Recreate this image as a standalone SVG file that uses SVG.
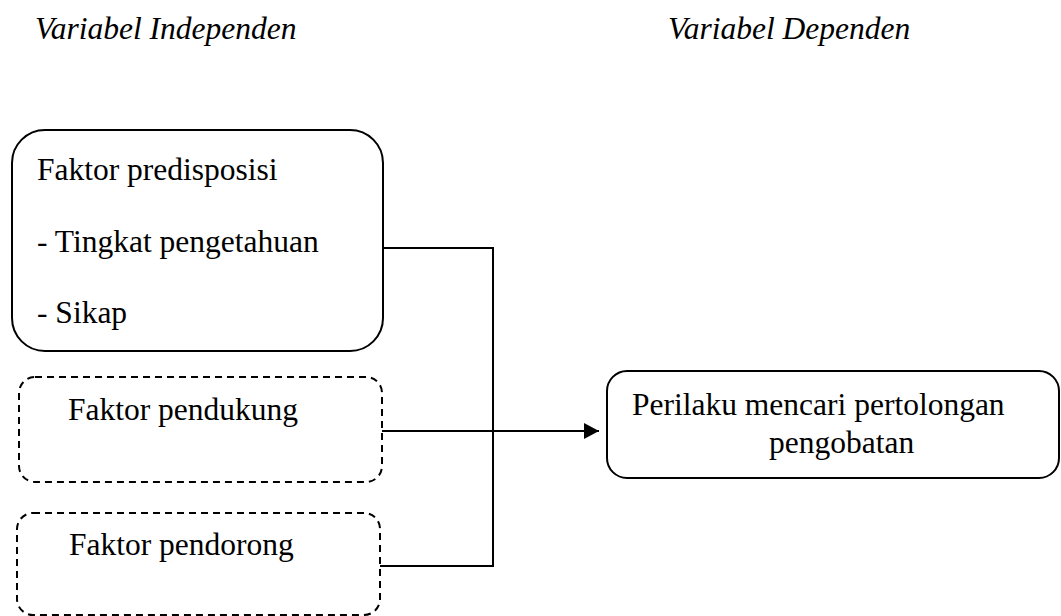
<svg xmlns="http://www.w3.org/2000/svg" width="1061" height="616" viewBox="0 0 1061 616">
<style>
  text { font-family: "Liberation Serif", "Times New Roman", serif; font-size: 31.5px; fill: #000; }
  .title { font-style: italic; }
  .box { fill: none; stroke: #000; stroke-width: 2; }
  .dashed { stroke-dasharray: 7 5; }
  .conn { fill: none; stroke: #000; stroke-width: 2; }
</style>
<defs>
  <marker id="arrow" markerWidth="16" markerHeight="16" refX="15" refY="8" orient="auto" markerUnits="userSpaceOnUse">
    <path d="M0,0 L15,8 L0,16 Z" fill="#000"/>
  </marker>
</defs>
<rect width="1061" height="616" fill="#fff"/>
<g id="titles">
  <text class="title" x="35" y="39">Variabel Independen</text>
  <text class="title" x="668" y="39">Variabel Dependen</text>
</g>
<g id="node-predisposisi">
  <rect class="box" x="12" y="130" width="371" height="221" rx="33" ry="33"/>
  <text x="37" y="180">Faktor predisposisi</text>
  <text x="37" y="252">- Tingkat pengetahuan</text>
  <text x="37" y="323">- Sikap</text>
</g>
<g id="node-pendukung">
  <rect class="box dashed" x="19" y="377" width="363" height="105" rx="16" ry="16"/>
  <text x="68" y="420">Faktor pendukung</text>
</g>
<g id="node-pendorong">
  <rect class="box dashed" x="17" y="513" width="363" height="102" rx="16" ry="16"/>
  <text x="69" y="555">Faktor pendorong</text>
</g>
<g id="node-perilaku">
  <rect class="box" x="607" y="371" width="452" height="107" rx="20" ry="20"/>
  <text x="632" y="415">Perilaku mencari pertolongan</text>
  <text x="769" y="453">pengobatan</text>
</g>
<g id="connectors">
  <polyline class="conn" points="383,248 493,248 493,566 380,566"/>
  <line class="conn" x1="382" y1="431" x2="599" y2="431" marker-end="url(#arrow)"/>
</g>
</svg>
